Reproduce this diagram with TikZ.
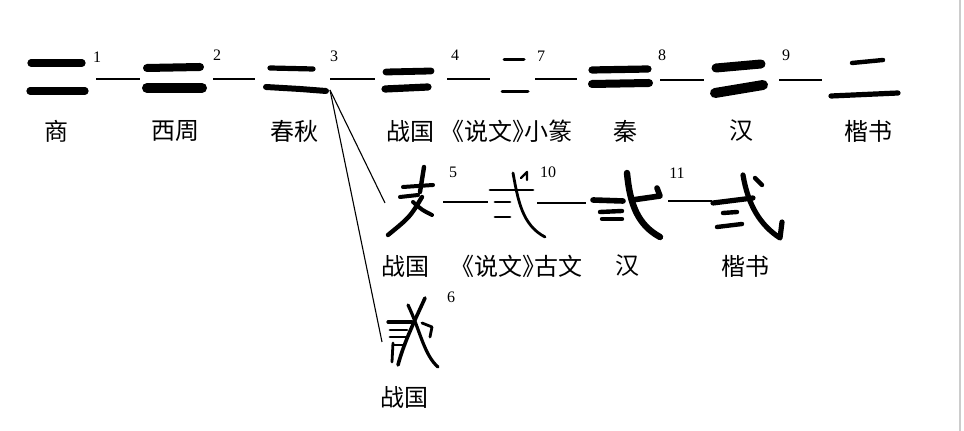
\documentclass[tikz,border=0pt]{standalone}
\usepackage{fontspec}
\setmainfont{Liberation Serif}
\newfontfamily\cjk[RawFeature=+halt]{Noto Sans CJK SC}
\usetikzlibrary{positioning}
\tikzset{
  lab/.style={font=\cjk\fontsize{12}{12}\selectfont, inner sep=0pt},
  num/.style={font=\fontsize{8}{8}\selectfont, inner sep=0pt},
  link/.style={line width=0.55pt},
  ink/.style={line cap=round, line join=round},
}
\begin{document}
\begin{tikzpicture}[x=0.5pt,y=-0.5pt]
\useasboundingbox (0,0) rectangle (964,431);
\draw[black!20, line width=0.8pt] (960,0) -- (960,431);

\coordinate (shang-e) at (96,79);    \coordinate (xizhou-w) at (140,79);
\coordinate (xizhou-e) at (213,79);  \coordinate (chunqiu-w) at (255,79);
\coordinate (chunqiu-e) at (330,79); \coordinate (zhanguo-w) at (375,79);
\coordinate (chunqiu-s) at (330,90);
\coordinate (zhanguo-e) at (447,79); \coordinate (zhuan-w) at (490,79);
\coordinate (zhuan-e) at (535,79);   \coordinate (qin-w) at (577,79);
\coordinate (qin-e) at (660,80);     \coordinate (han-w) at (704,80);
\coordinate (han-e) at (779,80);     \coordinate (kai-w) at (822,80);
\coordinate (zgb-w) at (385,203);    \coordinate (zgb-e) at (443,202);
\coordinate (guwen-w) at (488,202);  \coordinate (guwen-e) at (537,203);
\coordinate (hanb-w) at (586,203);   \coordinate (hanb-e) at (668,201);
\coordinate (kaib-w) at (712,201);
\coordinate (zgc-w) at (382,342);

\draw[ink, line width=3.6pt] (31,63) -- (82,63);
\draw[ink, line width=3.6pt] (30,91) -- (85,91);
\draw[ink, line width=4pt] (147,68) -- (200,67);
\draw[ink, line width=5pt] (147,88) -- (202,88);
\draw[ink, line width=2.6pt] (270,68) -- (313,69);
\draw[ink, line width=3pt] (266,87) -- (300,89) -- (326,91);
\draw[ink, line width=3.4pt] (386,72) -- (431,71);
\draw[ink, line width=3.6pt] (385,89) -- (428,87);
\draw[ink, line width=1.5pt] (504,60) -- (524,60);
\draw[ink, line width=1.5pt] (502,92) -- (528,92);
\draw[ink, line width=3.6pt] (592,70) -- (648,69);
\draw[ink, line width=4pt] (592,84) -- (649,83);
\draw[ink, line width=4.5pt] (716,68) -- (761,64);
\draw[ink, line width=5pt] (715,93) -- (763,85);
\draw[ink, line width=2.2pt] (852,63) -- (883,60);
\draw[ink, line width=2.6pt] (831,96) -- (898,93);

\draw[ink, line width=2.2pt] (424,167) -- (420,192);
\draw[ink, line width=2pt] (403,187) -- (433,185);
\draw[ink, line width=2pt] (400,197) -- (418,195);
\draw[ink, line width=2.2pt] (422,197) .. controls (410,217) .. (388,235);
\draw[ink, line width=2pt] (413,202) .. controls (422,210) .. (432,215);

\draw[ink, line width=1.4pt] (490,190) -- (533,190);
\draw[ink, line width=1.4pt] (495,202) -- (510,202);
\draw[ink, line width=1.4pt] (495,217) -- (510,217);
\draw[ink, line width=1.4pt] (513,173) .. controls (518,200) and (522,225) .. (545,237);
\draw[ink, line width=1.2pt] (521,178) -- (527,172) -- (527,180);

\draw[ink, line width=2.8pt] (593,200) -- (623,201);
\draw[ink, line width=2.2pt] (600,212) -- (622,211);
\draw[ink, line width=2.2pt] (602,219) -- (622,219);
\draw[ink, line width=3.2pt] (627,173) .. controls (630,205) and (638,225) .. (660,237);
\draw[ink, line width=2.8pt] (632,200) -- (660,196) -- (657,188);

\draw[ink, line width=2.6pt] (713,203) -- (753,198);
\draw[ink, line width=2.2pt] (723,213) -- (737,212);
\draw[ink, line width=2.2pt] (717,227) -- (742,224);
\draw[ink, line width=2.6pt] (743,175) .. controls (748,205) and (760,225) .. (780,238) -- (782,222);
\draw[ink, line width=2.2pt] (755,178) -- (762,185);

\draw[ink, line width=1.6pt] (388,322) -- (412,322);
\draw[ink, line width=1.4pt] (390,330) -- (407,330);
\draw[ink, line width=1.4pt] (390,337) -- (407,337);
\draw[ink, line width=1.4pt] (393,343) -- (392,362);
\draw[ink, line width=1.4pt] (393,345) -- (405,345);
\draw[ink, line width=1.8pt] (425,298) .. controls (416,318) and (404,342) .. (398,365);
\draw[ink, line width=1.6pt] (408,305) .. controls (420,330) and (424,355) .. (438,367);
\draw[ink, line width=1.4pt] (422,323) -- (432,327) -- (430,337);

\draw[link] (shang-e) -- (xizhou-w);
\draw[link] (xizhou-e) -- (chunqiu-w);
\draw[link] (chunqiu-e) -- (zhanguo-w);
\draw[link] (zhanguo-e) -- (zhuan-w);
\draw[link] (zhuan-e) -- (qin-w);
\draw[link] (qin-e) -- (han-w);
\draw[link] (han-e) -- (kai-w);
\draw[link] (chunqiu-s) -- (zgb-w);
\draw[link] (chunqiu-s) -- (zgc-w);
\draw[link] (zgb-e) -- (guwen-w);
\draw[link] (guwen-e) -- (hanb-w);
\draw[link] (hanb-e) -- (kaib-w);

\node[num] (n1) at (97,57) {1};
\node[num] (n2) at (217,55) {2};
\node[num] (n3) at (334,56) {3};
\node[num] (n4) at (455,55) {4};
\node[num] (n7) at (541,56) {7};
\node[num] (n8) at (662,55) {8};
\node[num] (n9) at (786,55) {9};
\node[num] (n5) at (453,172) {5};
\node[num] (n10) at (548,172) {10};
\node[num] (n11) at (677,173) {11};
\node[num] (n6) at (451,297) {6};

\node[lab] (l-shang) at (56,131) {商};
\node[lab] (l-xizhou) at (175,131) {西周};
\node[lab] (l-chunqiu) at (294,131) {春秋};
\node[lab] (l-zhanguo) at (410,131) {战国};
\node[lab] (l-zhuan) at (512,131) {《说文》小篆};
\node[lab] (l-qin) at (625,131) {秦};
\node[lab] (l-han) at (741,131) {汉};
\node[lab] (l-kai) at (868,131) {楷书};
\node[lab] (l-zgb) at (405,266) {战国};
\node[lab] (l-guwen) at (522,266) {《说文》古文};
\node[lab] (l-hanb) at (627,266) {汉};
\node[lab] (l-kaib) at (745,266) {楷书};
\node[lab] (l-zgc) at (404,397) {战国};
\end{tikzpicture}
\end{document}
